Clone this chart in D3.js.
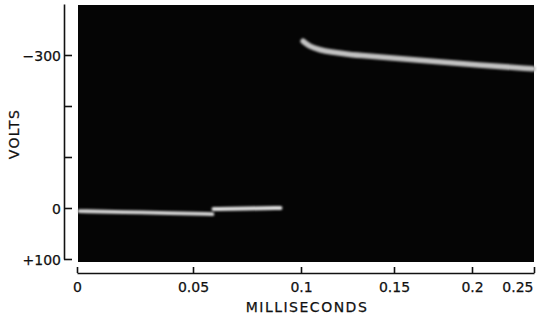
<!DOCTYPE html>
<html>
<head>
<meta charset="utf-8">
<script src="https://cdn.jsdelivr.net/npm/d3@7"></script>
<style>
  html, body { margin: 0; padding: 0; background: #fff; }
  svg { display: block; }
  .axis text { font-family: "DejaVu Sans", sans-serif; font-size: 14px; fill: #111; stroke: #111; stroke-width: 0.25; }
  .axis path, .axis line { stroke: #111; stroke-width: 1.6; }
  .title { font-family: "DejaVu Sans", sans-serif; font-size: 14px; fill: #111; stroke: #111; stroke-width: 0.25; }
</style>
</head>
<body>
<script>
// Time axis (ms) ticks and their labels
const timeTicks = [0, 0.05, 0.1, 0.15, 0.2, 0.25];
const timeTickLabels = ["0", "0.05", "0.1", "0.15", "0.2", "0.25"];

// Voltage axis ticks; only some are labelled
const voltTicks = [-300, -200, -100, 0, 100];
const voltTickLabels = ["\u2212300", "", "", "0", "+100"];

// Oscilloscope trace, three separate sweeps (time in ms, volts)
const trace1Time  = [0.001, 0.02, 0.04, 0.059];
const trace1Volts = [6, 8, 10, 12];

const trace2Time  = [0.0595, 0.075, 0.0905];
const trace2Volts = [2, 1, 0];

const trace3Time  = [0.1011, 0.1048, 0.1102, 0.1156, 0.1263, 0.1317, 0.1667, 0.2065, 0.2492];
const trace3Volts = [-327, -316, -310, -306, -301, -299, -290, -280, -273];

const W = 537, H = 322;
const svg = d3.select("body").append("svg").attr("width", W).attr("height", H);

// The sweep's time base is not linear, so the scale is piecewise over the tick values
const x = d3.scaleLinear().domain(timeTicks).range([77, 193, 301, 394, 472, 534]);
const y = d3.scaleLinear().domain([-400, 100]).range([4, 259]);

// Screen of the scope
svg.append("rect")
  .attr("x", 78).attr("y", 5)
  .attr("width", 534 - 78).attr("height", 262 - 5)
  .attr("fill", "#050505");

const defs = svg.append("defs");
defs.append("filter").attr("id", "glow")
  .append("feGaussianBlur").attr("stdDeviation", 0.8);

const line = d3.line()
  .x(d => x(d[0]))
  .y(d => y(d[1]))
  .curve(d3.curveBasis);

const traces = [
  { t: trace1Time, v: trace1Volts, w: 3.8, c: "#d8d8d8" },
  { t: trace2Time, v: trace2Volts, w: 4, c: "#e2e2e2" },
  { t: trace3Time, v: trace3Volts, w: 5.5, c: "#c2c2c2" }
];

svg.append("g").attr("filter", "url(#glow)")
  .selectAll("path")
  .data(traces)
  .join("path")
  .attr("d", d => line(d.t.map((t, i) => [t, d.v[i]])))
  .attr("fill", "none")
  .attr("stroke", d => d.c)
  .attr("stroke-width", d => d.w)
  .attr("stroke-linecap", "round");

// Voltage axis: ticks point into the plot, labels on the left
const yAxis = d3.axisLeft(y)
  .tickValues(voltTicks)
  .tickSize(-8)
  .tickSizeOuter(0)
  .tickPadding(3)
  .tickFormat((d, i) => voltTickLabels[i]);

svg.append("g").attr("class", "axis")
  .attr("transform", "translate(64,0)")
  .call(yAxis)
  .call(g => g.selectAll(".tick text").attr("dy", "0.38em"));

// Time axis: ticks point up, labels below
const xAxis = d3.axisBottom(x)
  .tickValues(timeTicks)
  .tickSize(-6)
  .tickSizeOuter(0)
  .tickPadding(9)
  .tickFormat((d, i) => timeTickLabels[i]);

svg.append("g").attr("class", "axis")
  .attr("transform", "translate(0,273)")
  .call(xAxis)
  .call(g => g.selectAll(".tick text")
    .filter(d => d === 0.25)
    .attr("text-anchor", "end")
    .attr("x", -1));

svg.append("text").attr("class", "title")
  .attr("x", 307).attr("y", 312)
  .attr("text-anchor", "middle")
  .attr("letter-spacing", "1.5px")
  .text("MILLISECONDS");

svg.append("text").attr("class", "title")
  .attr("transform", "translate(19,134) rotate(-90)")
  .attr("text-anchor", "middle")
  .attr("letter-spacing", "1.4px")
  .text("VOLTS");
</script>
</body>
</html>
